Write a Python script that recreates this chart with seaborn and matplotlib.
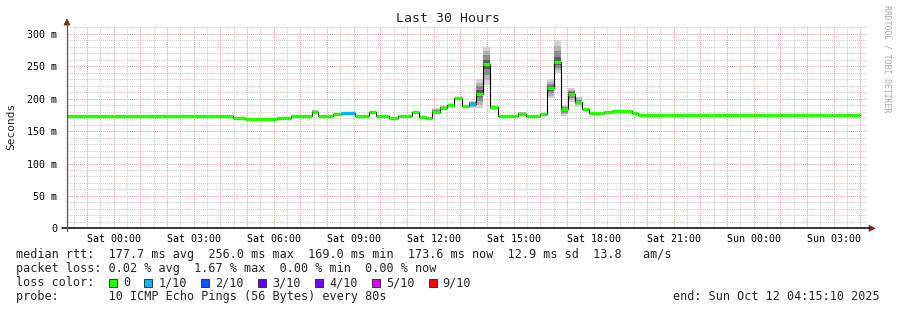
import numpy as np
import matplotlib
matplotlib.use("Agg")
import matplotlib.pyplot as plt
from matplotlib.patches import Polygon, Rectangle
from matplotlib.lines import Line2D
import seaborn as sns

# ---------------- data (hours relative to Sat 00:00) ----------------
step_start = [-1.75, 4.48, 4.93, 6.13, 6.65, 7.44, 7.67, 8.23, 8.53, 9.05,
              9.58, 9.84, 10.33, 10.65, 11.18, 11.45, 11.70, 11.94, 12.24, 12.50,
              12.76, 13.06, 13.33, 13.59, 13.85, 14.12, 14.41, 15.17, 15.47, 15.99,
              16.25, 16.52, 16.78, 17.04, 17.30, 17.56, 17.83, 18.39, 18.69, 19.44,
              19.66, 25.07, 26.94]
data_end = 27.99
median_ms = [173.0, 171.0, 169.5, 170.5, 173.7, 180.0, 173.0, 176.0, 177.8, 173.7,
             179.4, 173.7, 169.6, 173.7, 179.4, 172.0, 170.6, 180.0, 185.0, 190.0,
             200.5, 188.6, 191.7, 208.0, 253.6, 186.6, 173.0, 176.8, 173.7, 176.8,
             216.0, 256.0, 183.5, 207.7, 194.3, 183.5, 178.3, 179.4, 181.4, 177.8,
             174.2, 175.3, 174.5]
loss_count = [0, 0, 0, 0, 0, 0, 0, 0, 1, 0,
              0, 0, 0, 0, 0, 0, 0, 0, 0, 0,
              0, 0, 1, 0, 0, 0, 0, 0, 0, 0,
              0, 0, 0, 0, 0, 0, 0, 0, 0, 0,
              0, 0, 0]
smoke_lo = [173.0, 171.0, 169.5, 170.5, 173.7, 178.5, 173.0, 176.0, 177.8, 173.7,
            179.4, 173.7, 169.6, 173.7, 179.4, 172.0, 170.6, 179.0, 184.0, 190.0,
            200.5, 188.6, 186.0, 185.0, 221.0, 183.0, 173.0, 175.0, 173.0, 176.8,
            201.0, 240.0, 174.0, 195.0, 188.0, 183.5, 178.3, 179.4, 181.4, 177.8,
            174.2, 175.3, 174.5]
smoke_hi = [173.0, 171.0, 169.5, 170.5, 173.7, 182.5, 173.0, 176.0, 177.8, 173.7,
            179.4, 173.7, 169.6, 173.7, 179.4, 172.0, 170.6, 185.0, 191.0, 190.0,
            200.5, 188.6, 197.0, 230.0, 280.0, 190.0, 173.0, 180.0, 175.0, 176.8,
            230.0, 290.0, 190.0, 216.0, 203.0, 183.5, 178.3, 179.4, 181.4, 177.8,
            174.2, 175.3, 174.5]

x_ticks = [0, 3, 6, 9, 12, 15, 18, 21, 24, 27]
x_labels = ["Sat 00:00", "Sat 03:00", "Sat 06:00", "Sat 09:00", "Sat 12:00",
            "Sat 15:00", "Sat 18:00", "Sat 21:00", "Sun 00:00", "Sun 03:00"]
y_ticks = [0, 50, 100, 150, 200, 250, 300]
y_labels = ["0", "50 m", "100 m", "150 m", "200 m", "250 m", "300 m"]

loss_levels = ["0", "1/10", "2/10", "3/10", "4/10", "5/10", "9/10"]
loss_colors = ["#26ff00", "#00b8ff", "#0059ff", "#5e00ff", "#7e00ff", "#dd00ff", "#ff0000"]
loss_index = {0: 0, 1: 1, 2: 2, 3: 3, 4: 4, 5: 5, 9: 6}

title = "Last 30 Hours"
stat_lines = [
    "median rtt:  177.7 ms avg  256.0 ms max  169.0 ms min  173.6 ms now  12.9 ms sd  13.8   am/s",
    "packet loss: 0.02 % avg  1.67 % max  0.00 % min  0.00 % now",
]
probe_line = "probe:       10 ICMP Echo Pings (56 Bytes) every 80s"
end_text = "end: Sun Oct 12 04:15:10 2025"

# ---------------- figure ----------------
W, H = 897, 310
sns.set_style("white")
plt.rcParams["font.family"] = ["DejaVu Sans Mono", "DejaVu Sans"]

fig = plt.figure(figsize=(W / 100, H / 100), dpi=100)
fig.patch.set_facecolor("white")

ax_left, ax_right, ax_top, ax_bottom = 67, 867, 26, 228.3
ax = fig.add_axes([ax_left / W, 1 - ax_bottom / H, (ax_right - ax_left) / W, (ax_bottom - ax_top) / H])
t0 = -1.7472
ax.set_xlim(t0, t0 + 30)
ax.set_ylim(0, 312.3)

# grid
minor_col = "#cccccc"
major_col = "#f2a0a0"
for h in np.arange(-1.5, 28.3, 0.5):
    if abs(h - round(h)) > 1e-6:
        ax.axvline(h, color=minor_col, lw=0.75, ls=(0, (1, 1)), zorder=0)
for v in range(10, 320, 10):
    if v % 50:
        ax.axhline(v, color=minor_col, lw=0.75, ls=(0, (1, 1)), zorder=0)
for h in range(-1, 29):
    ax.axvline(h, color=major_col, lw=0.75, ls=(0, (1, 1)), zorder=1)
for v in range(50, 320, 50):
    ax.axhline(v, color=major_col, lw=0.75, ls=(0, (1, 1)), zorder=1)

# smoke
step_end = step_start[1:] + [data_end]
shades = ["#d2d2d2", "#b4b4b4", "#8c8c8c", "#5a5a5a"]
for s, e, m, lo, hi in zip(step_start, step_end, median_ms, smoke_lo, smoke_hi):
    if hi - lo < 0.5:
        continue
    for k, c in enumerate(shades):
        f = 1 - k / len(shades)
        b = m - (m - lo) * f
        t = m + (hi - m) * f
        ax.fill_between([s, e], [b, b], [t, t], color=c, lw=0, zorder=2)

# black median step line
xs = step_start + [data_end]
ys = median_ms + [median_ms[-1]]
sns.lineplot(x=xs, y=ys, ax=ax, drawstyle="steps-post", color="black",
             lw=0.8, estimator=None, sort=False, zorder=3)

# coloured median segments by loss
seg_cols = [loss_colors[loss_index[l]] for l in loss_count]
ax.hlines(median_ms, step_start, step_end, colors=seg_cols, lw=2.4, zorder=4)

# ticks
ax.set_xticks(x_ticks)
ax.set_xticklabels(x_labels)
ax.set_yticks(y_ticks)
ax.set_yticklabels(y_labels)
ax.tick_params(axis="both", labelsize=7.2, colors="#222222", labelcolor="black")
ax.tick_params(axis="y", length=3, width=0.8, pad=4, direction="out", color="#555555")
ax.tick_params(axis="x", length=0, pad=4)
ax.set_xlabel("")
ax.set_ylabel("")
for sp in ax.spines.values():
    sp.set_visible(False)
ax.grid(False)


def fx(x):
    return x / W


def fy(y):
    return 1 - y / H


# axis lines
fig.add_artist(Line2D([fx(62), fx(869)], [fy(ax_bottom), fy(ax_bottom)], color="black", lw=1.1))
fig.add_artist(Line2D([fx(ax_left), fx(ax_left)], [fy(ax_bottom + 3), fy(23)], color="#555555", lw=0.9))
arrow_col = "#8b1c1c"
fig.add_artist(Polygon([[fx(64), fy(25)], [fx(70), fy(25)], [fx(67), fy(19)]], closed=True,
                       facecolor=arrow_col, edgecolor=arrow_col, lw=0.5))
fig.add_artist(Polygon([[fx(869), fy(ax_bottom - 3)], [fx(869), fy(ax_bottom + 3)], [fx(875), fy(ax_bottom)]],
                       closed=True, facecolor=arrow_col, edgecolor=arrow_col, lw=0.5))

# texts
fig.text(fx(448), fy(19), title, ha="center", va="center", fontsize=9.5)
fig.text(fx(11), fy(126.5), "Seconds", rotation=90, ha="center", va="center", fontsize=8)
fig.text(fx(887), fy(59), "RRDTOOL / TOBI OETIKER", rotation=-90, ha="center", va="center",
         fontsize=5.9, color="#aaaaaa")

fs = 8.5
cw = 0.602 * fs * 100 / 72
lx = 16.2
line_y = [254.7, 268.5, 282.5, 296.5]
fig.text(fx(lx), fy(line_y[0]), stat_lines[0], ha="left", va="center", fontsize=fs)
fig.text(fx(lx), fy(line_y[1]), stat_lines[1], ha="left", va="center", fontsize=fs)
fig.text(fx(lx), fy(line_y[2]), "loss color:", ha="left", va="center", fontsize=fs)
col_char = 13
for lab, col in zip(loss_levels, loss_colors):
    bx = lx + col_char * cw + 0.3
    fig.add_artist(Rectangle((fx(bx), fy(line_y[2] + 4.0)), 8.0 / W, 8.0 / H,
                             facecolor=col, edgecolor="#222222", lw=0.6))
    fig.text(fx(lx + (col_char + 2) * cw), fy(line_y[2]), lab, ha="left", va="center", fontsize=fs)
    col_char += 2 + len(lab) + 2
fig.text(fx(lx), fy(line_y[3]), probe_line, ha="left", va="center", fontsize=fs)
fig.text(fx(880), fy(line_y[3]), end_text, ha="right", va="center", fontsize=fs)

fig.savefig("out.png", dpi=100, facecolor="white")
